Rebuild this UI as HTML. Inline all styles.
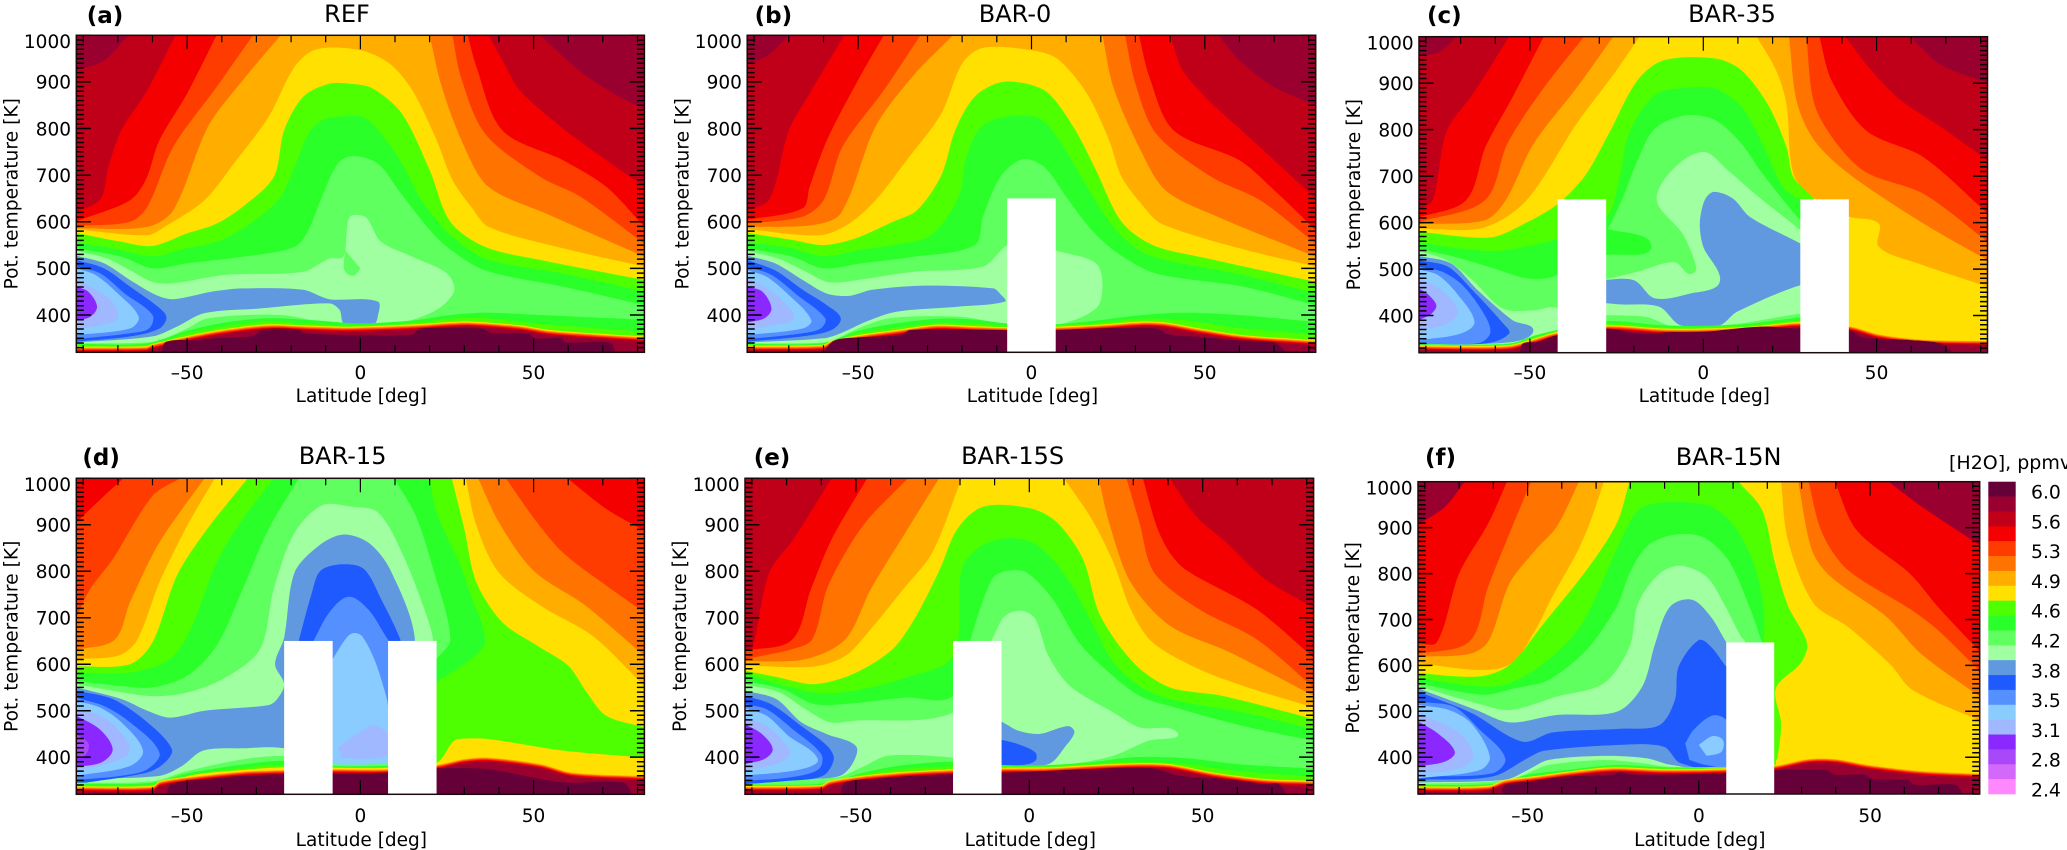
<!DOCTYPE html>
<html lang="en">
<head>
<meta charset="utf-8">
<title>H2O latitude-theta contours</title>
<style>
html,body{margin:0;padding:0;background:#fff;width:2067px;height:850px;overflow:hidden}
svg{display:block}
text{font-family:"DejaVu Sans","Liberation Sans",sans-serif;fill:#000}
</style>
</head>
<body>
<svg id="chart" xmlns="http://www.w3.org/2000/svg" width="2067" height="850" viewBox="0 0 2067 850"></svg>
<script>
const levelColors=['#660039','#990030','#c00018','#f50000','#ff3c00','#ff7300','#ffae00','#ffe000','#4dff00','#2aff2a','#5fff5f','#a0ffa0','#6199e0','#1f5aff','#5490ff','#8accff','#a0b8ff','#8a28ff','#a848f8','#d468fa','#ff88ff'];
const colorbarLabels=['6.0','5.6','5.3','4.9','4.6','4.2','3.8','3.5','3.1','2.8','2.4'];
const panelTitles=['REF','BAR-0','BAR-35','BAR-15','BAR-15S','BAR-15N'];
const panelLetters=['(a)','(b)','(c)','(d)','(e)','(f)'];
const xTickLabels=['–50','0','50'];
const xTickValues=[-50,0,50];
const yTickLabels=['400','500','600','700','800','900','1000'];
const yTickValues=[400,500,600,700,800,900,1000];
const latRange=[-82,82];
const thetaRange=[320,1000];
const barrierTop=650;
const backgroundLevels=[1,1,1,3,2,1];
const tropopauseOffsets=[[7,0],[6,-2],[5,-3.5],[4,-5],[3,-7],[2,-9],[1,-11]];

/* barriers: latitude spans */
const refBarriers=[];
const bar0Barriers=[[-7,7]];
const bar35Barriers=[[-42,-28],[28,42]];
const bar15Barriers=[[-22,-8],[8,22]];
const bar15sBarriers=[[-22,-8]];
const bar15nBarriers=[[8,22]];

/* contour boundaries as [level, [lat,theta, lat,theta, ...]] */
const refDomes=[
[2,[-82,925,-74,946,-67,1000,52,1000,63,925,72,880,82,840]],
[3,[-82,621,-75,649,-72.7,718,-69,796,-61.5,882,-53.4,1000,37,1000,41,946,46,882,58.5,800,71,732,82,675]],
[4,[-82,601,-66.5,646,-62,689,-58,775,-50,875,-41.5,1000,31,1000,33.5,932,41,796,58.5,732,71,675,82,589]],
[5,[-82,591,-66.5,600,-61.5,632,-54,761,-41.5,889,-31,1000,26.6,1000,29,911,36,789,52,696,63.5,654,82,553]],
[6,[-82,586,-61.5,589,-54,625,-44,804,-34,903,-23,1000,20,1000,23.5,889,30,761,37,675,53.5,618,82,525]],
[7,[-82,584,-61.5,571,-56.5,589,-45,646,-36.5,725,-26.5,825,-19,932,-12.7,970,0,968,8.5,939,15,882,22,775,26.6,689,32,632,37,589,58.5,543,82,504]],
[8,[-82,576,-69,557,-60,548,-50,575,-41.5,596,-34,632,-25,696,-22,796,-16.5,868,-9,896,-3,896,3.5,886,12,832,20,711,26,600,36,546,52,518,82,475]],
[9,[-82,557,-69,539,-60,526,-50,543,-40,561,-29,611,-23,654,-19,718,-15,789,-11,818,-5,826,1,824,6,789,12,725,17,654,22,604,26,571,36,521,58.5,489,82,450]],
[10,[-82,543,-69,525,-60,500,-50,511,-34,525,-19,546,-15,582,-11.5,646,-6.5,725,-2,741,5,725,11,668,18.5,596,25,546,36,496,58.5,461,82,421]]
];
const refBlobs=[
[11,[-82,538,-73,521,-66.5,496,-60,471,-54,468,-39,486,-16.5,493,-9,521,-5,525,-4,575,-3,611,0,614,2,607,6,557,15,525,25,489,27,450,21,407,8.5,379,-6.5,379,-23,400,-44,393,-50,371,-56.5,350,-61.5,341,-82,339]],
[10,[-4.4,539,-4.6,496,-2,484,0,500]],
[12,[-82,527,-74,511,-66.5,475,-59,443,-54,434,-43,450,-34,457,-16.5,454,-9,434,5,429,5,396,4,381,-4.6,381,-6,411,-9,425,-29,414,-45,404,-53,375,-60,354,-82,341]],
[13,[-82,518,-74,500,-66.5,461,-59,421,-56,396,-58,371,-66.5,354,-82,343]],
[14,[-82,504,-75,489,-68,446,-60,400,-61,371,-66.5,361,-82,348]],
[15,[-82,500,-76.5,486,-70,446,-64,396,-66.5,371,-82,357]],
[16,[-82,479,-78,461,-72,432,-70,393,-75,379,-82,369]],
[17,[-82,461,-78.5,450,-76,418,-78,396,-82,388]]
];
const refFloors=[
[9,[-82,338,-61.5,339,-50,366,-39,384,-26.5,393,-14,389,0,382,16,389,26,400,36,405,52,400,82,390]],
[8,[-82,335,-61.5,336,-50,361,-39,376,-26.5,386,-14,381,0,377,16,384,26,392,36,393,52,381,82,364]]
];
const refTropopause=[-82,332,-62,333,-60,338,-50,355,-39,370,-26.5,380,-14,377,-3,375,16,380,26,385,32,386,46,378,54.5,368,71,359,82,354];
const refDarkLayer=[-57.6,320,-56,343,-47,346,-40,351,-31,355,-28,369,-18,369,-16,361,-3,357,15,358,17,371,35,371,38,361,48,361,50.6,350,58,350,59.3,341,72,341,73.7,320];

const bar0Domes=[
[2,[-82,939,-76,957,-70,1000,54,1000,60,946,70,889,82,850]],
[3,[-82,624,-75.5,649,-70,796,-64,875,-54,1000,40,1000,43.6,925,51,861,60,800,70,732,82,650]],
[4,[-82,604,-66,629,-64,675,-59,775,-50,904,-42.6,1000,31,1000,34,911,41,796,60,732,70,668,82,582]],
[5,[-82,596,-66,611,-60,646,-54.5,761,-42.6,882,-32,1000,27,1000,30,896,36,789,52,696,66,646,82,553]],
[6,[-82,589,-63,593,-55,618,-45,804,-34,914,-22.6,1000,20.5,1000,23.6,889,31,761,38.6,668,53.6,611,82,525]],
[7,[-82,584,-61,571,-52.6,596,-45,646,-36,732,-26,832,-20,939,-14,973,0,968,7.4,950,16,875,22.4,775,26,696,32.4,632,37.4,596,60,543,82,504]],
[8,[-82,576,-69,561,-60,550,-51,564,-40,600,-33,625,-26,700,-22,796,-16.4,868,-9,899,-1.4,896,5,875,12.4,800,18.6,711,26,600,35,550,51,521,82,471]],
[9,[-82,557,-69,543,-60,526,-50,539,-40,550,-29,571,-21,654,-19,732,-14.5,804,-6.4,826,2.4,821,8.6,768,16,675,23.6,589,31,539,38.6,518,61,486,82,446]],
[10,[-82,543,-69,525,-60,500,-49,511,-34,525,-16.4,550,-14,611,-9,696,-2.6,734,3.6,718,10,654,17.4,582,25,532,36,489,61,461,82,421]]
];
const bar0Blobs=[
[11,[-82,538,-73,521,-65,493,-59,471,-54,471,-34,493,-14,504,-7,550,0,561,7,539,18.6,511,20.5,461,18.6,414,7.4,379,-7,379,-20,396,-41,393,-50,371,-56,350,-60,341,-82,339]],
[12,[-82,527,-74,511,-66,475,-59,446,-52.6,441,-46,454,-31,463,-11,457,-9,445,-7.6,429,-21,418,-39,407,-47.6,386,-55,361,-60,350,-82,341]],
[13,[-82,518,-74,496,-66,454,-59,421,-55,393,-57.6,368,-66,354,-82,343]],
[14,[-82,504,-75,486,-67.6,443,-59.5,393,-60.8,371,-66,361,-82,348]],
[15,[-82,496,-76.4,482,-70,443,-63.5,389,-66,371,-82,357]],
[16,[-82,479,-77,461,-71,425,-68.6,393,-74,379,-82,369]],
[17,[-82,461,-77.6,450,-75,414,-77,393,-82,384]]
];
const bar0Floors=[
[9,[-82,338,-60,340,-50,366,-39,382,-27,392,-16,390,-7,382,7,380,18.6,388,32,400,45,405,60,400,82,385]],
[8,[-82,336,-60,337,-50,361,-39,373,-27,383,-16,381,-7,378,7,378,18.6,383,32,392,45,388,60,372,82,358]]
];
const bar0Tropopause=[-82,334,-60,336,-58,344,-50,357,-39,368,-27.6,379,-16,376,-6,374,7,375,18.6,379,32,386,38.6,384,48.6,371,61,357,82,346];
const bar0DarkLayer=[-60,320,-57,345,-50,352,-37.6,357,-35,368,-11,368,1,366,18.6,371,36,371,40,358,48.6,353,58.6,346,70,341,73.6,320];

const bar35Domes=[
[2,[-82,958,-76,968,-71.25,1000,59.75,1000,68.5,940,82,901]],
[3,[-82,627,-78,649,-74,797,-66.5,876,-56,1000,41,1000,48.5,927,57,863,68.5,806,82,734]],
[4,[-82,611,-68.4,648,-62.8,763,-55,870,-46,1000,33.5,1000,37,906,47,798,63.5,741,82,620]],
[5,[-82,601,-63,648,-56.5,770,-46.5,885,-34.4,1000,29.75,1000,32,856,38.5,770,47,708,63.5,662,82,559]],
[6,[-82,597,-63,605,-57,648,-49,769,-36.5,890,-26,1000,24.75,1000,27,860,32,777,42,705,63.5,598,82,519]],
[7,[-82,587,-63.4,589,-51,648,-36.5,813,-25,928,-18.4,1000,15.4,1000,21,928,24,855,26,705,32,652,42,613,50.6,598,50.6,548,62,512,82,462]],
[8,[-82,580,-61.5,568,-51.5,598,-42,640,-34,702,-27,795,-19,906,-11.5,949,3.5,953,11,928,18.5,856,24,763,26,698,32,650,35,600]],
[9,[-82,558,-70,544,-59.5,539,-49.5,551,-42,565,-28,612,-24,702,-21.5,791,-14,874,-5,890,3.5,888,11,849,17,771,23,677,28,648,30,640]],
[10,[-82,544,-71.5,526,-61.5,504,-50,479,-42,488,-30,560,-24,640,-19,733,-14,802,-5,831,3.5,820,11,770,17,706,28,605,30,598]]
];
const bar35Blobs=[
[9,[-35,600,-28,587,-15,549,-28,530,-35,520]],
[11,[-29,476,-19,494,-8.4,515,-4,489,-2,501,-6,576,-13.4,648,-9,713,0,752,7,713,16,655,28,584,30,570,30,400,28,404,11,383,0,377,-9,377,-16.5,397,-29,401]],
[12,[-30,476,-20,476,-14,437,-4,447,4.75,472,0,548,-1,598,0.4,648,3,666,8.5,652,13.5,612,28,555,31,540,31,455,28,465,9.75,408,4.75,379,-6.5,379,-12.75,419,-24,424,-30,428]],
[11,[-82,539,-74,519,-66.5,476,-57.75,415,-49,411,-42,415,-41.5,368,-47.75,354,-56.5,340,-82,336]],
[12,[-82,528,-72.75,512,-65,454,-55,390,-49,368,-55,343,-82,338]],
[13,[-82,519,-73.6,505,-66.5,454,-57.75,383,-56,361,-62.75,340,-82,340]],
[14,[-82,505,-75.25,494,-69,462,-62.75,397,-61.5,361,-65,340,-82,340]],
[15,[-82,499,-76.5,487,-71,447,-66,386,-70,361,-82,347]],
[16,[-82,480,-77,462,-72,429,-71,400,-75,379,-82,368]],
[17,[-82,458,-79.6,447,-77,422,-78.4,404,-82,390]]
];
const bar35Floors=[
[9,[-82,338,-56,339,-49,356,-42,369,-28,388,-12,379,0,378,13,382,28,396,32,396]],
[8,[-82,337,-56,337,-49,352,-42,367,-28,383,-12,375,0,375,13,379,28,390,32,390]]
];
const bar35Tropopause=[-82,336,-56.5,336,-49,350,-42,365,-28,379,-11.5,372,0,372,13.5,376,28,386,42,379,51,361,63.5,350,82,347];
const bar35DarkLayer=[-53,320,-52,340,-48,343,-42,358,-28,372,-19,361,-10,364,0,365,16,376,28,372,42,368,46,353,60,347,68.5,340,72,320];

const bar15Domes=[
[4,[-82,905,-74,962,-68.4,1000,59.75,1000,71,934,82,887]],
[5,[-82,701,-78,762,-71.5,826,-60,962,-52,1000,42,1000,51,905,58.5,840,71,769,82,711]],
[6,[-82,631,-71,652,-66.5,733,-58,862,-45,1000,34,1000,40,905,50,801,65,726,82,618]],
[7,[-82,611,-70,618,-64.6,650,-58,776,-50,898,-42,1000,30.4,1000,33.5,898,40,797,52,726,67,661,82,553]],
[8,[-82,595,-66.5,600,-60,647,-53,790,-45,883,-32.5,1000,26.4,1000,30,891,33.5,776,41,690,51,640,60,597,65.4,539,71,489,82,464]],
[9,[-82,582,-66.5,582,-55,611,-49,675,-41.5,819,-34,912,-25,1000,20,1000,22,926,28.5,819,32,747,36,650,32,611,22,561,21,550]],
[10,[-82,564,-69,553,-60,550,-50,575,-41.5,640,-34,761,-26.5,891,-17.75,1000,9.75,1000,16,919,21,805,26,654,22,611,21,600]],
[11,[-82,557,-71.5,543,-60,531,-50,539,-39,571,-29,632,-25,762,-19,883,-11,942,-2.75,939,5,927,12,840,18.5,718,21,650,21,500]]
];
const bar15Blobs=[
[12,[-82,550,-69,525,-61.5,500,-55,485,-45,500,-26.5,512,-24,525,-22,557,-24.6,600,-22,657,-19,797,-12,855,-5,879,2.25,862,8.5,805,15.75,652,10,640,8,385,-8,385,-22,419,-34,419,-45.4,414,-51.5,381,-57.75,360,-82,353]],
[13,[-82,543,-71.5,525,-61.5,475,-54.4,417,-56.5,388,-61.5,367,-82,342]],
[13,[-17.75,652,-14,754,-11.5,801,-5.25,815,1,805,6,740,11.6,652,11,640,9,382,-9,382,-17,640]],
[14,[-13.4,652,-9,711,-3.4,745,2.25,718,7.25,661,8,652,9,640,9,388,-9,388,-14,640]],
[15,[-8,611,-4,657,-2,667,0.4,661,4,611,6.6,553,8,510,9,390,-9,390,-9,600]],
[16,[-6.5,421,-0.25,453,3.5,469,6.6,460,8,446,8,406,2.25,397,-5.25,399]],
[14,[-82,528,-74,510,-66.5,475,-58,410,-61.5,374,-69,360,-82,351]],
[15,[-82,521,-75.25,507,-69,475,-62.75,414,-66.5,381,-82,360]],
[16,[-82,503,-75,489,-70,460,-66.5,414,-71.5,389,-82,371]],
[17,[-82,489,-75.25,460,-71.5,417,-74.6,389,-82,379]],
[18,[-82,449,-78.4,428,-80,399,-82,406]]
];
const bar15Floors=[
[10,[-82,345,-60,348,-50,370,-34,395,-22,402,-8,385,8,385,22,385]],
[9,[-82,342,-60,345,-50,365,-34,384,-22,392,-8,381,8,381,21,382]],
[8,[-82,339,-60,341,-50,360,-34,377,-22,384,-8,379,8,379,21,380]],
[7,[-82,337,-60,338,-48,362,-33,373,-22,378,-8,377,8,377,22,388,27,435,30.4,440,37,439,58.5,414,82,399]]
];
const bar15Tropopause=[-82,337,-60,338,-57.75,349,-47.75,360,-33.4,371,-22,374,-8,376,8,376,22,385,30,398,37,401,52,387,61,369,82,361];
const bar15DarkLayer=[-56,320,-54.6,342,-44,353,-33,360,-22,363,8,367,22,376,37,374,50,356,60,345,76,345,78.5,320];

const bar15sDomes=[
[2,[-82,973,-79,984,-74,1000,60,1000,68,948,82,909]],
[3,[-82,631,-80,632,-75,797,-68,869,-57,1000,40.5,1000,48,919,56.75,862,68,783,82,722]],
[4,[-82,629,-68.5,652,-63,761,-57,869,-46.75,1000,32.75,1000,36.75,896,40.5,840,45.5,801,65.5,718,82,614]],
[5,[-82,611,-68.5,632,-62.6,654,-58,769,-48,898,-35,1000,28,1000,31.75,905,36,797,49,718,65.5,654,82,550]],
[6,[-82,606,-64.5,611,-53,654,-45.75,761,-35.75,883,-26,1000,20,1000,23,905,29.25,776,40.5,683,58,625,82,532]],
[7,[-82,597,-62,595,-53,618,-45.75,675,-36.4,761,-28,840,-19.5,1000,10,1000,18,912,24.25,819,29.25,718,35.5,647,49,589,61.75,553,82,507]],
[8,[-82,586,-72,571,-62,557,-50.75,579,-39.5,632,-32.6,704,-25.75,805,-20.75,891,-13.25,939,0.5,935,8,905,15.5,826,20.5,704,30.5,600,40.5,550,55.5,532,82,482]],
[9,[-82,579,-62,539,-50.75,543,-35.75,571,-22,618,-19.5,805,-14.5,851,-7,871,1.75,858,10.5,790,18,690,24.25,604,31.75,553,40.5,525,61.75,496,82,460]],
[10,[-82,564,-71,546,-62,514,-50.75,516,-35.75,528,-22,532,-17,654,-10.75,783,-6.4,801,-0.75,797,6.75,740,14.25,647,23,582,31.75,532,40.5,510,61.75,467,82,435]]
];
const bar15sBlobs=[
[11,[-82,557,-72,539,-64.5,503,-57.6,475,-50.75,478,-22,496,-15,600,-10.75,654,-7,704,-2,715,1.75,697,5.5,618,11.75,553,24.25,496,31.75,464,42.75,452,34.25,435,24.25,403,11.75,385,-0.75,381,-8,381,-22,399,-40.75,403,-48.25,378,-55.75,356,-82,353]],
[12,[-10,480,-8,476,-3.25,457,3,450,9.25,464,11.75,466,13,453,10.5,424,5.5,385,-8,381,-10,381]],
[13,[-10,440,-8,437,-3.25,428,1.75,410,1.75,392,-2,383,-8,383,-10,383]],
[12,[-82,543,-73,525,-65.75,475,-58.25,449,-50,424,-50.75,389,-54.5,360,-63,353,-82,342]],
[13,[-82,532,-74.5,514,-65.75,467,-58.25,424,-56.4,396,-59.5,360,-69.5,349,-82,342]],
[14,[-82,514,-75.75,503,-68.25,460,-60,406,-60.75,374,-69.5,356,-82,349]],
[15,[-82,505,-75.75,489,-69.5,446,-61,396,-65.75,374,-82,360]],
[16,[-82,485,-75.75,467,-70.75,432,-69,406,-73.25,385,-82,371]],
[17,[-82,471,-77,449,-74,417,-76.4,396,-82,385]]
];
const bar15sFloors=[
[9,[-82,341,-60,343,-48,366,-37,382,-22,390,-8,383,5.5,383,18,389,30.5,400,45,398,60,385,82,375]],
[8,[-82,339,-60,341,-48,363,-37,374,-22,380,-8,380,5.5,380,18,386,30.5,390,45,385,60,370,82,358]]
];
const bar15sTropopause=[-82,338,-60,340,-57.6,349,-48.25,360,-37,368,-22,374,-8,377,5.5,378,18,383,30.5,387,40.5,385,53,367,68,353,82,349];
const bar15sDarkLayer=[-54.5,320,-53.25,345,-44.5,353,-33.25,360,-22,363,-8,366,16.75,374,35.5,376,43,360,56.75,353,68,342,72,342,74.25,320];

const bar15nDomes=[
[3,[-82,906,-74,946,-68.4,1000,55.4,1000,65,946,82,862]],
[4,[-82,648,-76.5,650,-70,800,-61.5,909,-56,1000,39.75,1000,46,895,61.6,800,69.75,728,82,630]],
[5,[-82,625,-67,652,-61.5,772,-55.25,888,-49,1000,32,1000,36,888,43.5,808,62,721,69.75,677,82,588]],
[6,[-82,619,-67,625,-61.5,652,-55.25,779,-47.75,851,-41.5,902,-35,1000,29,1000,33,851,38.5,793,54.75,706,64.75,626,82,532]],
[7,[-82,605,-63.4,590,-54.6,605,-47.75,677,-42.75,750,-35.25,851,-31.5,917,-27.75,1000,24,1000,26,873,33.5,735,43.5,684,56,601,62.25,547,82,480]],
[8,[-82,583,-64,576,-55.25,601,-45.25,692,-32.75,808,-24,909,-20.25,1000,11.6,1000,18.5,938,22.25,822,26,730,31.6,648,29.75,605,22.5,550,24,474,23,400,22.5,392]],
[9,[-82,572,-64,554,-55.25,561,-44,612,-34,692,-22.75,873,-17.75,938,-11.5,954,2.25,949,9.75,909,16,822,19,721,19,648,19,640]],
[10,[-82,561,-63,536,-54,550,-44,568,-32.75,634,-24,728,-20.25,800,-15.25,859,-7.75,884,1,880,8.5,830,14.75,728,18.5,648,18.5,640]]
];
const bar15nBlobs=[
[11,[-82,555,-65,518,-55.25,503,-41.5,532,-27.75,561,-20.25,641,-17.75,735,-11.5,800,-5.25,817,2.25,793,7.25,735,12.25,663,13.5,650,12,640,9,379,-7.75,378,-16.5,387,-27.75,394,-44,383,-50,365,-56.5,345,-82,342]],
[12,[-82,550,-65,503,-55.25,476,-41.5,492,-24,499,-16.5,554,-12.75,648,-8.4,728,-2,743,3.5,706,8,650,9,640,9,382,-7.75,383,-15.25,398,-27.75,403,-44,394,-50,372,-56.5,351,-82,345]],
[13,[-82,543,-66.25,496,-51.5,434,-42.75,454,-22.75,462,-11.5,470,-7,525,-5.9,597,0,655,3.5,641,8,597,9,590,9,382,-5.25,387,-10.25,423,-22.75,427,-45.25,414,-50,398,-60.25,358,-82,351]],
[14,[-4,430,-1.5,460,4,491,8,481,9,440,9,383,2.25,383,-2.75,394]],
[15,[0,427,4,446,7,438,6.6,412,2.25,403]],
[14,[-82,521,-71.5,510,-64,460,-56.5,398,-60.25,365,-82,358]],
[15,[-82,514,-73,503,-66.5,474,-61,401,-64,372,-82,354]],
[16,[-82,496,-73,467,-68,438,-66,398,-71.5,372,-82,365]],
[17,[-82,478,-76.25,452,-71.25,412,-74,391,-82,380]]
];
const bar15nFloors=[
[10,[-82,342,-56.5,350,-44,378,-27.75,390,-16.5,385,-7.75,379,8,379,21,381]],
[9,[-82,340,-60,342,-50,362,-37.75,373,-25,383,-10,378,8,378,21,380]],
[8,[-82,338,-60,339,-50,356,-37.75,370,-25,380,-10,376,8,377,22,382]],
[7,[-82,336,-61.5,338,-56.5,351,-47.75,359,-37.75,369,-25.25,378,-10.25,374,8,376,22,384]]
];
const bar15nTropopause=[-82,336,-61.5,338,-56.5,351,-47.75,359,-37.75,369,-25.25,378,-10.25,374,8,376,22,383,32,398,39.75,398,49.75,385,64.75,372,82,366];
const bar15nDarkLayer=[-57.75,320,-56.5,340,-49.6,347,-39,358,-25.25,362,-22.75,368,-19.6,362,8,365,22,372,37.25,372,39.75,362,48.5,362,51,352,61,351,63,340,75,340,77,320];

const allDomes=[refDomes,bar0Domes,bar35Domes,bar15Domes,bar15sDomes,bar15nDomes];
const allBlobs=[refBlobs,bar0Blobs,bar35Blobs,bar15Blobs,bar15sBlobs,bar15nBlobs];
const allFloors=[refFloors,bar0Floors,bar35Floors,bar15Floors,bar15sFloors,bar15nFloors];
const allTropopauses=[refTropopause,bar0Tropopause,bar35Tropopause,bar15Tropopause,bar15sTropopause,bar15nTropopause];
const allDarkLayers=[refDarkLayer,bar0DarkLayer,bar35DarkLayer,bar15DarkLayer,bar15sDarkLayer,bar15nDarkLayer];
const allBarriers=[refBarriers,bar0Barriers,bar35Barriers,bar15Barriers,bar15sBarriers,bar15nBarriers];

/* page layout (not data) */
const frames=[
{l:76.3,r:644.4,t:35.3,b:352.3,yl:17.5,tx:347,ty:22,lx:86.7,ly:23,xb:379,lb:402},
{l:747.2,r:1315.7,t:35.3,b:352.3,yl:688.4,tx:1015,ty:22,lx:754.6,ly:23,xb:379,lb:402},
{l:1419,r:1987.5,t:36.7,b:352.7,yl:1360.2,tx:1732,ty:22,lx:1427,ly:23,xb:379,lb:402},
{l:76.3,r:644.4,t:478.3,b:794.3,yl:17.5,tx:342.6,ty:464,lx:82.4,ly:465,xb:822,lb:846},
{l:745,r:1313.6,t:478.3,b:794.3,yl:686.2,tx:1012.6,ty:464,lx:753.7,ly:465,xb:822,lb:846},
{l:1418,r:1979.7,t:481.7,b:794,yl:1359.2,tx:1728.6,ty:465,lx:1425,ly:465,xb:822,lb:846}
];
const NS='http://www.w3.org/2000/svg';
const root=document.getElementById('chart');

function svgEl(tag,attrs,parent){
  const el=document.createElementNS(NS,tag);
  for(const k in attrs){el.setAttribute(k,attrs[k]);}
  parent.appendChild(el);
  return el;
}
function xScale(f,lat){return f.l+(lat-latRange[0])/(latRange[1]-latRange[0])*(f.r-f.l);}
function yScale(f,th){return f.b-(th-thetaRange[0])/(thetaRange[1]-thetaRange[0])*(f.b-f.t);}

/* smooth path through a flat [lat,theta,...] list; edge-hugging runs at the top stay straight */
function splinePath(f,flat){
  const n=flat.length/2;
  const P=[];
  for(let i=0;i<n;i++){P.push({x:xScale(f,flat[2*i]),y:yScale(f,flat[2*i+1]),top:flat[2*i+1]>=1000});}
  function tangent(i){
    const a=P[Math.max(i-1,0)],b=P[Math.min(i+1,n-1)],c=P[i];
    let u=a,v=b;
    if(c.top&&b.top)v=c;
    if(c.top&&a.top)u=c;
    const dx=v.x-u.x,dy=v.y-u.y,m=Math.hypot(dx,dy)||1;
    return {x:dx/m,y:dy/m};
  }
  let d='M'+P[0].x.toFixed(1)+' '+P[0].y.toFixed(1);
  for(let i=0;i<n-1;i++){
    const p=P[i],q=P[i+1];
    if(p.top&&q.top){d+='L'+q.x.toFixed(1)+' '+q.y.toFixed(1);continue;}
    const len=Math.hypot(q.x-p.x,q.y-p.y)*0.3;
    const t0=tangent(i),t1=tangent(i+1);
    d+='C'+(p.x+t0.x*len).toFixed(1)+' '+(p.y+t0.y*len).toFixed(1)+' '+(q.x-t1.x*len).toFixed(1)+' '+(q.y-t1.y*len).toFixed(1)+' '+q.x.toFixed(1)+' '+q.y.toFixed(1);
  }
  return {d:d,first:P[0],last:P[n-1]};
}
function domePath(f,flat){
  const s=splinePath(f,flat);
  const y=f.b+3;
  return s.d+'L'+s.last.x.toFixed(1)+' '+y+'L'+s.first.x.toFixed(1)+' '+y+'Z';
}
function blobPath(f,flat){return splinePath(f,flat).d+'Z';}

frames.forEach(function(f,idx){
  const panel=svgEl('g',{},root);
  
  

  const clipId='clip'+idx;
  const defs=svgEl('defs',{},panel);
  const cp=svgEl('clipPath',{id:clipId},defs);
  svgEl('rect',{x:f.l,y:f.t,width:f.r-f.l,height:f.b-f.t},cp);

  const plot=svgEl('g',{'clip-path':'url(#'+clipId+')'},panel);
  
  

  const bg=svgEl('rect',{x:f.l,y:f.t,width:f.r-f.l,height:f.b-f.t,fill:levelColors[backgroundLevels[idx]]},plot);
  
  

  allDomes[idx].forEach(function(layer){
    const el=svgEl('path',{d:domePath(f,layer[1]),fill:levelColors[layer[0]]},plot);
    
    
  });
  allBlobs[idx].forEach(function(layer){
    const el=svgEl('path',{d:blobPath(f,layer[1]),fill:levelColors[layer[0]]},plot);
    
    
  });
  allFloors[idx].forEach(function(layer){
    const el=svgEl('path',{d:domePath(f,layer[1]),fill:levelColors[layer[0]]},plot);
    
    
  });
  const tropo=allTropopauses[idx];
  tropopauseOffsets.forEach(function(o){
    const shifted=tropo.map(function(v,i){return i%2?v+o[1]:v;});
    const el=svgEl('path',{d:domePath(f,shifted),fill:levelColors[o[0]]},plot);
    
    
  });
  const dark=svgEl('path',{d:blobPath(f,allDarkLayers[idx]),fill:levelColors[0]},plot);
  
  

  /* ticks */
  const ticks=svgEl('g',{stroke:'#000',fill:'none'},panel);
  
  
  let dx='';
  for(let lat=-80;lat<=80;lat+=10){
    const x=xScale(f,lat),len=lat%50===0?14:7;
    dx+='M'+x.toFixed(1)+' '+f.b+'v'+(-len)+'M'+x.toFixed(1)+' '+f.t+'v'+len;
  }
  svgEl('path',{d:dx,'stroke-width':1.2},ticks);
  let dy='';
  for(let th=320;th<=1000;th+=10){
    const y=yScale(f,th),len=th%100===0?14.5:7.5;
    dy+='M'+f.l+' '+y.toFixed(1)+'h'+len+'M'+f.r+' '+y.toFixed(1)+'h'+(-len);
  }
  svgEl('path',{d:dy,'stroke-width':1.5},ticks);

  /* barrier masks sit above the ticks, as in the reference */
  allBarriers[idx].forEach(function(b){
    const x0=xScale(f,b[0]),x1=xScale(f,b[1]),y0=yScale(f,barrierTop);
    const el=svgEl('rect',{x:x0,y:y0,width:x1-x0,height:f.b-y0,fill:'#fff'},panel);
    
    
  });

  const box=svgEl('rect',{x:f.l,y:f.t,width:f.r-f.l,height:f.b-f.t,fill:'none',stroke:'#1a0a0a','stroke-width':1.5},panel);
  
  

  /* labels */
  yTickValues.forEach(function(v,i){
    const y=yScale(f,v)+6.8+(v===1000?5.8:0);
    const t=svgEl('text',{x:f.l-5.3,y:y,'text-anchor':'end','font-size':18.5},panel);
    t.textContent=yTickLabels[i];
    
    
  });
  xTickValues.forEach(function(v,i){
    const t=svgEl('text',{x:xScale(f,v),y:f.xb,'text-anchor':'middle','font-size':18.5},panel);
    t.textContent=xTickLabels[i];
    
    
  });
  const xt=svgEl('text',{x:(f.l+f.r)/2+1,y:f.lb,'text-anchor':'middle','font-size':18.5},panel);
  xt.textContent='Latitude [deg]';
  
  
  const cy=(f.t+f.b)/2;
  const yt=svgEl('text',{x:0,y:0,'text-anchor':'middle','font-size':18.7,transform:'translate('+f.yl+' '+cy+') rotate(-90)'},panel);
  yt.textContent='Pot. temperature [K]';
  
  
  const title=svgEl('text',{x:f.tx,y:f.ty,'text-anchor':'middle','font-size':24},panel);
  title.textContent=panelTitles[idx];
  
  
  const letter=svgEl('text',{x:f.lx,y:f.ly,'font-size':23,'font-weight':'bold'},panel);
  letter.textContent=panelLetters[idx];
  
  
});

/* colorbar */
const cbar=svgEl('g',{},root);


const cbTop=481.7,cbBottom=794,cbLeft=1988.3,cbWidth=27.4;
const cbStep=(cbBottom-cbTop)/levelColors.length;
levelColors.forEach(function(c,i){
  const r=svgEl('rect',{x:cbLeft,y:cbTop+i*cbStep,width:cbWidth,height:cbStep+0.3,fill:c},cbar);
  
  
});
colorbarLabels.forEach(function(s,i){
  const t=svgEl('text',{x:2031,y:498.7+i*29.76,'font-size':18.8},cbar);
  t.textContent=s;
  
  
});
const cbTitle=svgEl('text',{x:1949,y:469,'font-size':19},cbar);
cbTitle.textContent='[H2O], ppmv';


</script>
</body>
</html>
